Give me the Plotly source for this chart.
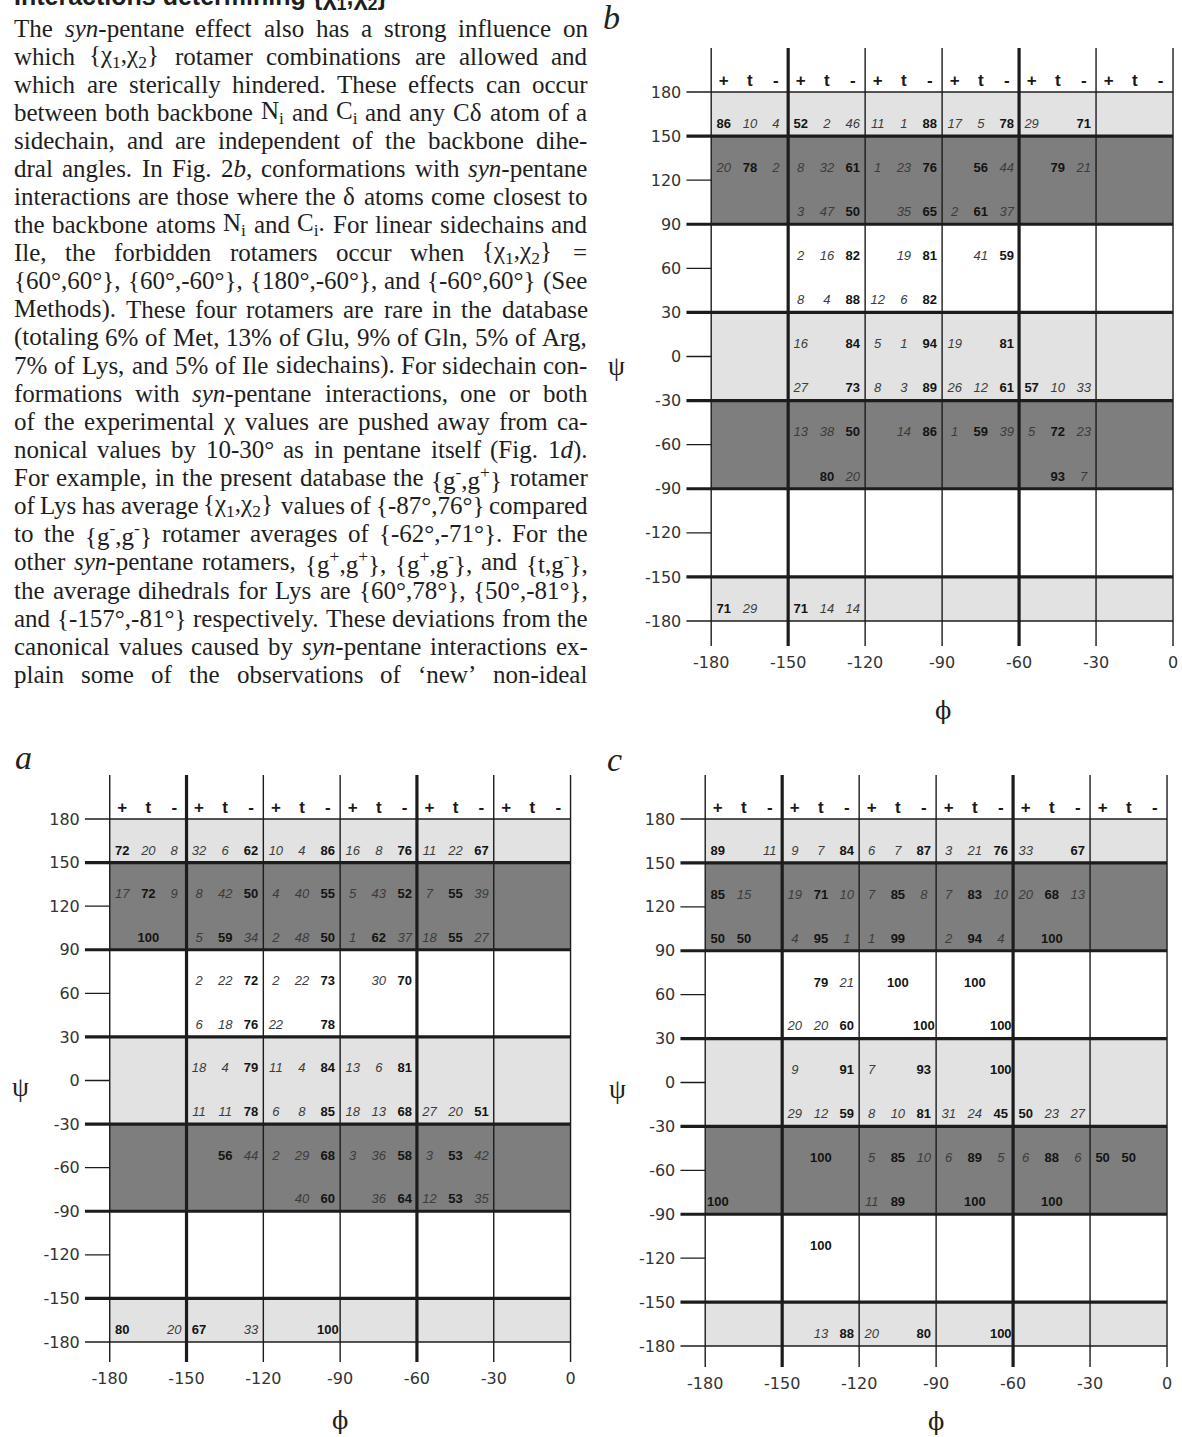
import re
import plotly.graph_objects as go

# ---------------------------------------------------------------- data
PHI_COLS = [-180, -150, -120, -90, -60, -30]          # left edge of each 30 deg phi column
PHI_TICKS = [-180, -150, -120, -90, -60, -30, 0]
PHI_LABELS = ["-180", "-150", "-120", "-90", "-60", "-30", "0"]
PSI_TICKS = [180, 150, 120, 90, 60, 30, 0, -30, -60, -90, -120, -150, -180]
PSI_LABELS = ["180", "150", "120", "90", "60", "30", "0", "-30", "-60", "-90", "-120", "-150", "-180"]
ROTAMERS = ["+", "t", "-"]
LIGHT_BANDS = [(150, 180), (-30, 30), (-180, -150)]
DARK_BANDS = [(90, 150), (-90, -30)]

# (phi column start, psi row start, % chi1 = +, % chi1 = t, % chi1 = -)
CELLS_A = [
    (-180, 150, 72, 20, 8), (-150, 150, 32, 6, 62), (-120, 150, 10, 4, 86), (-90, 150, 16, 8, 76), (-60, 150, 11, 22, 67),
    (-180, 120, 17, 72, 9), (-150, 120, 8, 42, 50), (-120, 120, 4, 40, 55), (-90, 120, 5, 43, 52), (-60, 120, 7, 55, 39),
    (-180, 90, None, 100, None), (-150, 90, 5, 59, 34), (-120, 90, 2, 48, 50), (-90, 90, 1, 62, 37), (-60, 90, 18, 55, 27),
    (-150, 60, 2, 22, 72), (-120, 60, 2, 22, 73), (-90, 60, None, 30, 70),
    (-150, 30, 6, 18, 76), (-120, 30, 22, None, 78),
    (-150, 0, 18, 4, 79), (-120, 0, 11, 4, 84), (-90, 0, 13, 6, 81),
    (-150, -30, 11, 11, 78), (-120, -30, 6, 8, 85), (-90, -30, 18, 13, 68), (-60, -30, 27, 20, 51),
    (-150, -60, None, 56, 44), (-120, -60, 2, 29, 68), (-90, -60, 3, 36, 58), (-60, -60, 3, 53, 42),
    (-120, -90, None, 40, 60), (-90, -90, None, 36, 64), (-60, -90, 12, 53, 35),
    (-180, -180, 80, None, 20), (-150, -180, 67, None, 33), (-120, -180, None, None, 100),
]
CELLS_B = [
    (-180, 150, 86, 10, 4), (-150, 150, 52, 2, 46), (-120, 150, 11, 1, 88), (-90, 150, 17, 5, 78), (-60, 150, 29, None, 71),
    (-180, 120, 20, 78, 2), (-150, 120, 8, 32, 61), (-120, 120, 1, 23, 76), (-90, 120, None, 56, 44), (-60, 120, None, 79, 21),
    (-150, 90, 3, 47, 50), (-120, 90, None, 35, 65), (-90, 90, 2, 61, 37),
    (-150, 60, 2, 16, 82), (-120, 60, None, 19, 81), (-90, 60, None, 41, 59),
    (-150, 30, 8, 4, 88), (-120, 30, 12, 6, 82),
    (-150, 0, 16, None, 84), (-120, 0, 5, 1, 94), (-90, 0, 19, None, 81),
    (-150, -30, 27, None, 73), (-120, -30, 8, 3, 89), (-90, -30, 26, 12, 61), (-60, -30, 57, 10, 33),
    (-150, -60, 13, 38, 50), (-120, -60, None, 14, 86), (-90, -60, 1, 59, 39), (-60, -60, 5, 72, 23),
    (-150, -90, None, 80, 20), (-60, -90, None, 93, 7),
    (-180, -180, 71, 29, None), (-150, -180, 71, 14, 14),
]
CELLS_C = [
    (-180, 150, 89, None, 11), (-150, 150, 9, 7, 84), (-120, 150, 6, 7, 87), (-90, 150, 3, 21, 76), (-60, 150, 33, None, 67),
    (-180, 120, 85, 15, None), (-150, 120, 19, 71, 10), (-120, 120, 7, 85, 8), (-90, 120, 7, 83, 10), (-60, 120, 20, 68, 13),
    (-180, 90, 50, 50, None), (-150, 90, 4, 95, 1), (-120, 90, 1, 99, None), (-90, 90, 2, 94, 4), (-60, 90, None, 100, None),
    (-150, 60, None, 79, 21), (-120, 60, None, 100, None), (-90, 60, None, 100, None),
    (-150, 30, 20, 20, 60), (-120, 30, None, None, 100), (-90, 30, None, None, 100),
    (-150, 0, 9, None, 91), (-120, 0, 7, None, 93), (-90, 0, None, None, 100),
    (-150, -30, 29, 12, 59), (-120, -30, 8, 10, 81), (-90, -30, 31, 24, 45), (-60, -30, 50, 23, 27),
    (-150, -60, None, 100, None), (-120, -60, 5, 85, 10), (-90, -60, 6, 89, 5), (-60, -60, 6, 88, 6), (-30, -60, 50, 50, None),
    (-180, -90, 100, None, None), (-120, -90, 11, 89, None), (-90, -90, None, 100, None), (-60, -90, None, 100, None),
    (-150, -120, None, 100, None),
    (-150, -180, None, 13, 88), (-120, -180, 20, None, 80), (-90, -180, None, None, 100),
]

HEADING = "Interactions determining {χ<sub>1</sub>,χ<sub>2</sub>}"
BODY_LINES = [
    "The <i>syn</i>-pentane effect also has a strong influence on",
    "which {χ<sub>1</sub>,χ<sub>2</sub>} rotamer combinations are allowed and",
    "which are sterically hindered. These effects can occur",
    "between both backbone N<sub>i</sub> and C<sub>i</sub> and any Cδ atom of a",
    "sidechain, and are independent of the backbone dihe-",
    "dral angles. In Fig. 2<i>b</i>, conformations with <i>syn</i>-pentane",
    "interactions are those where the δ atoms come closest to",
    "the backbone atoms N<sub>i</sub> and C<sub>i</sub>. For linear sidechains and",
    "Ile, the forbidden rotamers occur when {χ<sub>1</sub>,χ<sub>2</sub>} =",
    "{60°,60°}, {60°,-60°}, {180°,-60°}, and {-60°,60°} (See",
    "Methods). These four rotamers are rare in the database",
    "(totaling 6% of Met, 13% of Glu, 9% of Gln, 5% of Arg,",
    "7% of Lys, and 5% of Ile sidechains). For sidechain con-",
    "formations with <i>syn</i>-pentane interactions, one or both",
    "of the experimental χ values are pushed away from ca-",
    "nonical values by 10-30° as in pentane itself (Fig. 1<i>d</i>).",
    "For example, in the present database the {g<sup>-</sup>,g<sup>+</sup>} rotamer",
    "of Lys has average {χ<sub>1</sub>,χ<sub>2</sub>} values of {-87°,76°} compared",
    "to the {g<sup>-</sup>,g<sup>-</sup>} rotamer averages of {-62°,-71°}. For the",
    "other <i>syn</i>-pentane rotamers, {g<sup>+</sup>,g<sup>+</sup>}, {g<sup>+</sup>,g<sup>-</sup>}, and {t,g<sup>-</sup>},",
    "the average dihedrals for Lys are {60°,78°}, {50°,-81°},",
    "and {-157°,-81°} respectively. These deviations from the",
    "canonical values caused by <i>syn</i>-pentane interactions ex-",
    "plain some of the observations of ‘new’ non-ideal",
]

# ---------------------------------------------------------------- style / geometry
W, H = 1182, 1437
LIGHT = "#e2e2e2"
DARK = "#7e7e7e"
LINE = "#1c1c1c"
THICK_PSI = [150, 90, 30, -30, -90, -150]
THIN_PSI = [180, -180]
STUB_PSI = [120, 60, 0, -60, -120]
THICK_PHI = [-150, -60]
SUB_OFFSETS = [4.9, 15.1, 25.2]
NUM_FONT = "Liberation Sans Narrow, Arial Narrow, Liberation Sans, Arial"

# pixel geometry of each panel (b top right, a bottom left, c bottom right)
PANELS = [
    dict(name="b", cells=CELLS_B, xm180=713, x0=1176, y180=92, ym180=621, top=48, bottom=646, left=688,
         letter=(613, 17), psi=(618, 366), phi=(945, 711)),
    dict(name="a", cells=CELLS_A, xm180=110, x0=572, y180=819, ym180=1342, top=775, bottom=1362, left=85,
         letter=(24, 757), psi=(21, 1087), phi=(341, 1421)),
    dict(name="c", cells=CELLS_C, xm180=707, x0=1170, y180=819, ym180=1346, top=775, bottom=1367, left=682,
         letter=(616, 759), psi=(619, 1089), phi=(938, 1422)),
]

fig = go.Figure()
shapes = []
annotations = []
layout_axes = {}

for i, p in enumerate(PANELS):
    n = "" if i == 0 else str(i + 1)
    xr, yr = "x" + n, "y" + n
    kx = (p["x0"] - p["xm180"]) / 180.0
    ky = (p["ym180"] - p["y180"]) / 360.0
    x_lo = -180 - (p["xm180"] - p["left"]) / kx
    x_hi = 0 + 2.0 / kx
    y_hi = 180 + (p["y180"] - p["top"]) / ky
    y_lo = -180 - (p["bottom"] - p["ym180"]) / ky
    layout_axes["xaxis" + n] = dict(
        domain=[p["left"] / W, (p["x0"] + 2) / W], range=[x_lo, x_hi], anchor=yr,
        tickvals=PHI_TICKS, ticktext=PHI_LABELS, ticks="", showgrid=False, zeroline=False,
        showline=False, fixedrange=True, ticklabelstandoff=5,
        tickfont=dict(family="DejaVu Sans", size=16, color="#333333"))
    layout_axes["yaxis" + n] = dict(
        domain=[1 - p["bottom"] / H, 1 - p["top"] / H], range=[y_lo, y_hi], anchor=xr,
        tickvals=PSI_TICKS, ticktext=PSI_LABELS, ticks="", showgrid=False, zeroline=False,
        showline=False, fixedrange=True, ticklabelstandoff=4,
        tickfont=dict(family="DejaVu Sans", size=16, color="#333333"))

    for lo, hi in LIGHT_BANDS:
        shapes.append(dict(type="rect", xref=xr, yref=yr, x0=-180, x1=0, y0=lo, y1=hi,
                           fillcolor=LIGHT, line=dict(width=0), layer="below"))
    for lo, hi in DARK_BANDS:
        shapes.append(dict(type="rect", xref=xr, yref=yr, x0=-180, x1=0, y0=lo, y1=hi,
                           fillcolor=DARK, line=dict(width=0), layer="below"))
    for v in PHI_TICKS:
        wdt = 3.2 if v in THICK_PHI else 1.4
        shapes.append(dict(type="line", xref=xr, yref=yr, x0=v, x1=v, y0=y_lo, y1=y_hi,
                           line=dict(color=LINE, width=wdt), layer="below"))
    for v in THICK_PSI:
        shapes.append(dict(type="line", xref=xr, yref=yr, x0=x_lo, x1=0, y0=v, y1=v,
                           line=dict(color=LINE, width=3.2), layer="below"))
    for v in THIN_PSI:
        shapes.append(dict(type="line", xref=xr, yref=yr, x0=x_lo, x1=0, y0=v, y1=v,
                           line=dict(color=LINE, width=1.4), layer="below"))
    for v in STUB_PSI:
        shapes.append(dict(type="line", xref=xr, yref=yr, x0=x_lo, x1=-180, y0=v, y1=v,
                           line=dict(color=LINE, width=1.4), layer="below"))

    # header row "+ t -"
    hx, hy, ht = [], [], []
    for c in PHI_COLS:
        for k, lab in enumerate(ROTAMERS):
            hx.append(c + SUB_OFFSETS[k])
            hy.append(180 + 7.3)
            ht.append(lab)
    fig.add_trace(go.Scatter(x=hx, y=hy, text=ht, mode="text", xaxis=xr, yaxis=yr,
                             textfont=dict(family="Liberation Sans", size=17, color="#1a1a1a", weight="bold"),
                             hoverinfo="skip", showlegend=False, cliponaxis=False))

    # cell percentages: the largest of each cell bold, the others italic
    bx, by, bt, ix, iy, it = [], [], [], [], [], []
    for phi, psi, *vals in p["cells"]:
        present = [v for v in vals if v is not None]
        vmax = max(present)
        for k, v in enumerate(vals):
            if v is None:
                continue
            xx = phi + SUB_OFFSETS[k]
            yy = psi + 7.8
            if v == vmax:
                bx.append(xx); by.append(yy); bt.append(str(v))
            else:
                ix.append(xx); iy.append(yy); it.append(str(v))
    fig.add_trace(go.Scatter(x=bx, y=by, text=bt, mode="text", xaxis=xr, yaxis=yr,
                             textfont=dict(family=NUM_FONT, size=13, color="#141414", weight="bold"),
                             hoverinfo="skip", showlegend=False, cliponaxis=False))
    fig.add_trace(go.Scatter(x=ix, y=iy, text=it, mode="text", xaxis=xr, yaxis=yr,
                             textfont=dict(family=NUM_FONT, size=13, color="#3c3c3c", style="italic"),
                             hoverinfo="skip", showlegend=False, cliponaxis=False))

    lx, ly = p["letter"]
    annotations.append(dict(text="<i>%s</i>" % p["name"], x=lx / W, y=1 - ly / H, xref="paper", yref="paper",
                            showarrow=False, xanchor="center", yanchor="middle",
                            font=dict(family="Liberation Serif", size=34, color="#222222")))
    sx, sy = p["psi"]
    annotations.append(dict(text="ψ", x=sx / W, y=1 - sy / H, xref="paper", yref="paper",
                            showarrow=False, xanchor="center", yanchor="middle",
                            font=dict(family="Liberation Serif", size=27, color="#222222")))
    fx, fy = p["phi"]
    annotations.append(dict(text="ϕ", x=fx / W, y=1 - fy / H, xref="paper", yref="paper",
                            showarrow=False, xanchor="center", yanchor="middle",
                            font=dict(family="DejaVu Serif", size=24, color="#222222")))

# ---------------------------------------------------------------- justified body text
TIMES = {}
for chs, w in [("ijlt", 278), ("fr", 333), ("s", 389), ("acez", 444), ("bdghknopquvxy", 500),
               ("m", 778), ("w", 722), ("0123456789", 500), (" ,.", 250), ("-()", 333),
               ("{}", 480), ("%", 833), ("°", 400), ("‘’", 333), ("=+", 564), (";:", 278),
               ("χδ", 500), ("ABCDGHKNOQRUVXY", 722), ("BC", 667), ("R", 667), ("EFLTZ", 611),
               ("FPS", 556), ("IJ", 333), ("J", 389), ("M", 889), ("W", 944)]:
    for ch in chs:
        TIMES[ch] = w
ITAL = {"s": 389, "y": 444, "n": 500, "b": 500, "d": 500}


def text_width(html, size):
    total, scale, italic = 0.0, 1.0, False
    for tok in re.split(r"(<[^>]+>)", html):
        if tok.startswith("<"):
            t = tok.lower()
            if t in ("<sub>", "<sup>"):
                scale = 0.7
            elif t in ("</sub>", "</sup>"):
                scale = 1.0
            elif t == "<i>":
                italic = True
            elif t == "</i>":
                italic = False
            continue
        for ch in tok:
            w = ITAL.get(ch) if italic else None
            total += (w or TIMES.get(ch, 500)) * scale
    return total / 1000.0 * size


BODY_SIZE = 25
TXT_L, TXT_R = 13, 588
for li, line in enumerate(BODY_LINES):
    y_px = 28 + li * 28.1
    words = line.split(" ")
    widths = [text_width(w, BODY_SIZE) for w in words]
    gaps = len(words) - 1
    gap = (TXT_R - TXT_L - sum(widths)) / gaps if gaps else 0
    gap = max(gap, 0.12 * BODY_SIZE)
    x = TXT_L
    for w_txt, w_px in zip(words, widths):
        annotations.append(dict(text=w_txt, x=x / W, y=1 - y_px / H, xref="paper", yref="paper",
                                showarrow=False, xanchor="left", yanchor="middle", borderpad=0,
                                font=dict(family="Liberation Serif", size=BODY_SIZE, color="#1e1e1e")))
        x += w_px + gap

annotations.append(dict(text="<b>" + HEADING + "</b>", x=13 / W, y=1 - 15 / H, xref="paper", yref="paper",
                        showarrow=False, xanchor="left", yanchor="bottom", borderpad=0,
                        font=dict(family="Liberation Sans", size=25, color="#1e1e1e")))

fig.update_layout(width=W, height=H, margin=dict(l=0, r=0, t=0, b=0),
                  paper_bgcolor="white", plot_bgcolor="rgba(0,0,0,0)", showlegend=False,
                  shapes=shapes, annotations=annotations, **layout_axes)
fig.write_html("out.html", config={"displayModeBar": False, "staticPlot": True},
               post_script="document.body.style.margin='0';document.body.style.overflow='hidden';")
